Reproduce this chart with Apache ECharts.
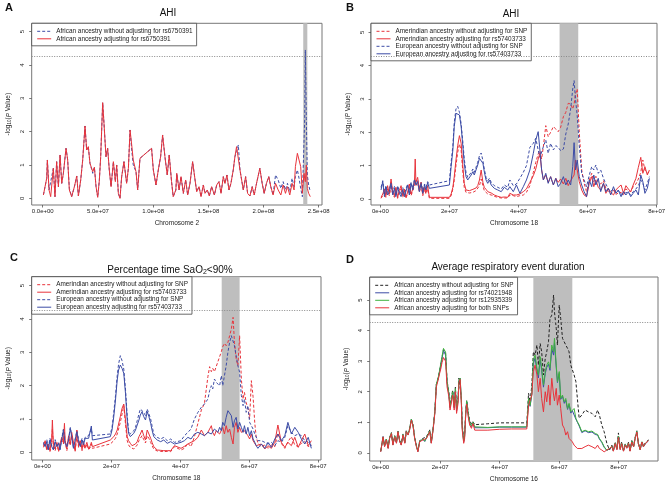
<!DOCTYPE html>
<html>
<head>
<meta charset="utf-8">
<script src="https://cdn.jsdelivr.net/npm/echarts@6/dist/echarts.min.js"></script>
<style>
html, body { margin: 0; padding: 0; background: #fff; }
#chart { width: 667px; height: 490px; }
</style>
</head>
<body>
<div id="chart"></div>
<script>
// positions are in Mb (1e6 bp), values are -log10(P)

// A: AHI, chromosome 2
var posA = [0.6,3.6,4.2,5.7,7.2,9.6,11.1,12.6,14.2,15.7, 17.2,18.7,21.1,22.6,24.1,26.2,28.7,30.8,32.3,34.4,
  36.2,38.3,39.8,41.3,42.8,45.3,46.8,48.3,49.8,51.3, 52.5,54.3,55.5,57.3,58.8,60.3,61.9,64,65.8,67,
  68.5,70,71.5,73.6,76,77.6,79.1,80.6,82,84.5, 86,88.1,89.6,98.6,100.2,102.6,104.7,106.8,108.6,110.7,
  112.8,114.6,116.7,118.2,120.6,
  121.4,123.5,125.3,127.4,129.5,131.3,133.4,135.8,138,139.5, 141.6,143.4,145.5,147,149.1,150.9,153,155.5,157.6,159.7,
  161.5,163.6,165.1,166.9,168.7,170.5,172.6,174.1,175.6,177.2, 178.7,180.2,181.7,183.8,185.6,187.7,189.8,191.6,193.7,196.7,
  198.8,200.6,202.7,204.8,206.6,208.7,210.9,213.3,215.7,217.8, 219.9,221.7,223.8,225.9,227.7,228.9,230.7,232.2,233.7,235.2,
  236.7,237.3,237.9,238.8,239.7,240.9,242.4];
var afrNoAdjA = [0.1,0.6,1.15,0.25,0.3,0.9,0.05,1.1,0.35,1.3, 0.45,0.75,1.5,1.15,0.3,0.05,0.35,0.67,0.07,0.55,
  1.15,2.17,1.45,1.55,1.05,0.75,0.93,0.35,0.03,0.55, 1.25,2.87,2.25,1.25,1.5,0.85,0.35,1.1,0.5,1.0,
  0.15,0.0,0.65,1.1,0.45,0.9,2.05,1.45,1.0,0.8, 0.25,1.2,1.25,1.5,0.85,0.4,0.85,1.25,1.9,1.25,
  0.7,1.3,0.5,0.05,0.25,
  0.75,0.25,0.65,0.15,0.55,0.1,0.45,1.1,0.55,0.2, 0.35,0.05,0.4,0.15,0.25,0.07,0.35,0.1,0.4,0.5,
  0.15,0.65,0.45,0.7,0.25,0.45,0.85,1.25,1.4,1.6, 0.85,0.55,0.25,0.65,0.15,0.07,0.35,0.1,0.45,0.9,
  0.45,0.15,0.45,0.65,0.35,0.1,0.7,0.55,0.3,0.5, 0.25,0.45,0.2,0.6,0.35,0.65,0.85,0.6,0.3,0.05,
  0.1,2.35,4.45,2.4,0.7,0.4,0.2];
var afrAdjA = [0.1,0.6,1.15,0.25,0.05,0.9,0.05,1.1,0.35,1.3, 0.45,0.75,1.5,1.15,0.25,0.05,0.35,0.67,0.07,0.55,
  1.15,2.17,1.45,1.55,1.05,0.8,0.93,0.35,0.03,0.55, 1.25,2.87,2.25,1.25,1.5,0.85,0.35,1.1,0.5,1.0,
  0.15,0.0,0.65,1.1,0.45,0.9,2.05,1.6,1.15,0.8, 0.25,1.2,1.25,1.5,0.85,0.4,0.85,1.25,1.9,1.25,
  0.7,1.3,0.5,0.05,0.25,
  0.75,0.25,0.65,0.15,0.55,0.1,0.45,1.1,0.55,0.2, 0.35,0.05,0.4,0.15,0.25,0.07,0.35,0.1,0.4,0.5,
  0.15,0.65,0.45,0.7,0.25,0.45,0.85,1.25,1.55,1.6, 0.85,0.55,0.25,0.65,0.15,0.07,0.35,0.1,0.45,0.9,
  0.45,0.15,0.45,0.65,0.35,0.1,0.45,0.25,0.1,0.4, 0.15,0.35,0.1,0.45,0.25,0.95,1.35,1.4,0.95,0.15,
  0.75,0.6,0.5,1.0,0.3,0.15,0.05];

// B: AHI, chromosome 18
var posB = [0.2,0.7,1.2,1.6,2.1,2.6,3.1,3.6,4.1,4.5, 5.0,5.5,6.0,6.5,7.0,7.4,7.9,8.4,8.9,9.4,
  9.9,10.1,10.3,10.8,11.3,11.8,12.3,12.8,13.2,13.7, 14.2,
  20,20.5,21,21.4,21.9,22.4,22.9,23.4,23.9, 24.3,24.8,25.3,25.8,26.3,26.8,27.2,27.7,28.2,28.7,
  29.2,29.7,30.1,30.6,31.1,31.6,32.1,33,34,35, 35.9,36.9,
  37.5,38.5,39.4,40.4,41.4,42.3,43.3,44.3,45,45.7, 46.2,46.7,47.2,47.9,48.6,49.3,50.1,50.8,51.5,52.2,
  53,53.7,54.4,55.1,55.7,56.1,56.5,57,57.6,58.3, 59,59.7,60.5,61.2,61.8,62.4,63.1,63.8,64.6,65.3,
  66,66.7,67.5,68.2,68.9,69.7,70.4,71.1,71.8,72.5, 73.2,74,74.7,75.4,76,76.6,77.3,77.9];
var amrNoAdjB = [0.02,0.1,0.2,0.05,0.3,0.1,0.35,0.15,0.05,0.25, 0.02,0.2,0.3,0.05,0.25,0.02,0.15,0.35,0.1,0.25,
  0.4,0.55,0.4,0.5,0.2,0.4,0.1,0.3,0.15,0.3, 0.02,
  0.02,0.1,0.3,0.55,1.0,1.4,1.65,1.45,0.8, 0.35,0.2,0.15,0.18,0.15,0.2,0.18,0.25,0.3,0.4,
  0.6,0.4,0.25,0.2,0.15,0.18,0.12,0.08,0.05,0.03, 0.03,0.03,
  0.12,0.1,0.07,0.1,0.12,0.2,0.4,0.8,1.1,1.35, 1.45,1.2,1.57,2.2,1.87,2.0,2.17,2.1,2.02,2.15,
  2.47,2.6,2.87,2.85,2.7,2.85,3.15,3.3,2.0,0.87, 0.47,0.22,0.57,0.77,0.52,0.68,0.5,0.45,0.55,0.32,
  0.22,0.15,0.27,0.14,0.18,0.2,0.12,0.3,0.25,0.22, 0.37,0.45,0.6,0.8,1.17,0.87,0.77,0.82];
var amrAdjB = [0.05,0.15,0.3,0.1,0.4,0.15,0.6,0.2,0.1,0.35, 0.05,0.25,0.4,0.1,0.3,0.05,0.2,0.45,0.15,0.3,
  0.55,1.2,0.5,0.65,0.3,0.5,0.15,0.35,0.2,0.4, 0.05,
  0.05,0.15,0.35,0.67,1.17,1.6,1.9,1.67,0.97, 0.47,0.27,0.22,0.25,0.22,0.29,0.27,0.33,0.4,0.57,
  0.87,0.5,0.35,0.29,0.22,0.25,0.18,0.12,0.08,0.05, 0.06,0.05,
  0.17,0.12,0.12,0.15,0.22,0.3,0.5,0.7,0.9,1.2, 1.37,0.87,0.57,0.72,0.5,0.67,0.42,0.62,0.5,0.6,
  0.45,0.62,0.4,0.55,0.65,0.72,1.17,0.87,0.52,0.27, 0.12,0.07,0.47,0.67,0.37,0.57,0.35,0.27,0.47,0.17,
  0.32,0.2,0.12,0.27,0.35,0.42,0.17,0.4,0.3,0.22, 0.42,0.62,0.95,1.25,0.77,0.97,0.72,0.87];
var eurNoAdjB = [0.35,0.55,0.15,0.4,0.2,0.3,0.5,0.2,0.38,0.15, 0.4,0.25,0.15,0.35,0.12,0.3,0.45,0.2,0.5,0.32,
  0.6,0.55,0.48,0.55,0.3,0.5,0.25,0.45,0.35,0.52, 0.42,
  0.55,1.1,1.6,2.3,2.7,2.78,2.6,2.25,1.7, 1.2,0.8,0.65,0.7,0.8,0.9,0.8,0.95,1.1,1.3,
  1.38,1.15,0.9,0.65,0.55,0.62,0.5,0.4,0.35,0.3, 0.42,0.35,
  0.57,0.4,0.45,0.62,0.8,1.0,1.55,1.67,1.82,1.47, 1.25,1.3,1.57,1.77,1.37,1.67,1.47,1.6,1.55,1.45,
  1.5,1.95,2.25,2.7,3.3,3.55,3.0,2.5,1.6,0.77, 0.57,0.37,0.72,0.97,0.87,1.02,0.77,0.87,0.62,0.45,
  0.3,0.22,0.32,0.2,0.25,0.15,0.12,0.2,0.18,0.12, 0.22,0.3,0.4,0.57,0.47,0.27,0.47,0.67];
var eurAdjB = [0.27,0.52,0.07,0.37,0.12,0.22,0.47,0.12,0.32,0.07, 0.35,0.17,0.07,0.27,0.07,0.22,0.42,0.12,0.47,0.27,
  0.57,0.5,0.42,0.52,0.22,0.47,0.17,0.42,0.27,0.49, 0.32,
  0.42,0.97,1.47,2.17,2.57,2.62,2.52,2.17,1.57, 1.07,0.67,0.57,0.62,0.72,0.82,0.72,0.87,1.02,1.22,
  1.27,1.07,0.82,0.57,0.47,0.57,0.42,0.32,0.27,0.22, 0.35,0.27,
  0.37,0.22,0.42,0.17,0.37,0.57,0.87,1.37,1.77,2.02, 1.47,0.87,0.57,0.77,0.47,0.67,0.42,0.62,0.37,0.47,
  0.67,0.42,0.57,0.42,0.97,1.69,0.87,1.17,0.67,0.42, 0.22,0.07,0.57,0.37,0.72,0.42,0.62,0.22,0.47,0.22,
  0.32,0.12,0.37,0.17,0.27,0.07,0.22,0.12,0.22,0.07, 0.17,0.27,0.12,0.72,0.52,0.17,0.32,0.62];

// C: percentage time SaO2 < 90%, chromosome 18
var posC = [0.3,0.8,1.3,1.7,2.2,2.7,2.9,3.2,3.7,4.2, 4.7,5.1,5.6,6.1,6.4,6.6,7.1,7.6,8.1,8.5,
  9.0,9.5,10,10.5,11,11.5,11.9,12.4,12.9,13.4, 13.9,14.2,14.5,19.7,20.2,20.7,21.2,21.7,22.1,22.6,
  23.1,23.6,24.1,24.6,25.0,25.5,26,26.5,27,27.5, 28,28.4,28.9,29.4,29.9,30.4,30.9,31.4,31.8,32.3,
  33.3,34.3,35.2,36.2,37.2,
  38.3,40.2,41.2,42.2,43.1,44.1,45.1,46.1,47,47.5, 48,48.5,49,49.4,49.9,50.4,50.9,51.4,51.9,52.3,
  52.8,53.3,53.8,54.3,54.8,55.3,55.7,56.2,56.7,57.2, 57.7,58.2,58.6,59.1,59.6,60.1,60.6,61.1,61.6,62,
  62.5,63.5,64.5,65.4,66.4,67.4,68.3,69.3,70.3,71.2, 72.2,73.2,74.2,75.1,76.1,77.1,78];
var amrNoAdjC = [0.15,0.3,0.05,0.2,0.02,0.3,0.7,0.15,0.05,0.25, 0.02,0.2,0.35,0.25,0.6,0.3,0.05,0.4,0.2,0.5,
  0.25,0.03,0.5,0.15,0.3,0.05,0.25,0.1,0.25,0.08, 0.15,0.25,0.12,0.25,0.3,0.35,0.42,0.55,0.7,0.9,
  1.15,1.4,0.85,0.35,0.22,0.15,0.12,0.1,0.15,0.22, 0.35,0.42,0.5,0.38,0.28,0.5,0.42,0.3,0.2,0.1,
  0.04,0.03,0.02,0.03,0.02,
  0.17,0.07,0.12,0.27,0.17,0.47,0.87,1.27,1.47,1.87, 2.27,2.57,2.42,2.52,2.42,2.57,2.72,2.87,3.02,3.17,
  3.27,3.2,3.3,3.5,3.7,4.05,3.3,2.8,2.6,3.5, 2.2,1.6,1.8,1.5,1.3,1.0,2.15,1.67,0.87,0.47,
  0.27,0.17,0.22,0.12,0.22,0.17,0.57,0.27,0.12,0.32, 0.47,0.22,0.17,0.27,0.32,0.17,0.22];
var amrAdjC = [0.2,0.35,0.1,0.25,0.05,0.4,0.97,0.2,0.1,0.3, 0.05,0.25,0.45,0.3,0.87,0.35,0.1,0.5,0.25,0.6,
  0.3,0.05,0.67,0.2,0.35,0.1,0.3,0.15,0.3,0.1, 0.2,0.3,0.17,0.37,0.42,0.47,0.55,0.67,0.85,1.07,
  1.32,1.45,0.97,0.47,0.35,0.27,0.2,0.17,0.25,0.32, 0.47,0.55,0.67,0.5,0.37,0.67,0.55,0.42,0.3,0.17,
  0.07,0.06,0.05,0.05,0.05,
  0.2,0.12,0.18,0.25,0.3,0.35,0.45,0.67,0.5,0.55, 0.6,0.7,0.8,0.6,0.5,0.65,0.7,0.55,0.6,0.75,
  0.55,0.8,0.6,0.7,0.45,0.25,0.75,0.9,0.6,0.75, 0.6,0.55,0.65,0.6,0.5,0.4,0.55,0.35,0.3,0.2,
  0.15,0.25,0.1,0.2,0.12,0.3,0.82,0.3,0.15,0.3, 0.2,0.45,0.15,0.35,0.55,0.2,0.35];
var eurNoAdjC = [0.3,0.2,0.38,0.1,0.42,0.2,0.25,0.1,0.38,0.22, 0.3,0.1,0.4,0.7,0.45,0.3,0.2,0.42,0.75,0.5,
  0.15,0.4,0.65,0.38,0.2,0.42,0.3,0.45,0.45,0.5, 0.48,0.7,0.5,0.55,0.75,1.2,1.7,2.3,2.65,2.9,
  2.75,2.5,1.9,1.1,0.65,0.55,0.6,0.65,0.75,0.95, 1.15,1.3,1.35,1.2,1.1,1.3,1.25,1.0,0.8,0.55,
  0.45,0.4,0.45,0.35,0.4,
  0.3,0.35,0.5,0.6,0.7,1.0,1.2,1.35,1.45,1.5, 1.6,1.85,2.0,1.9,2.2,2.1,2.05,2.0,2.3,2.0,
  2.3,2.6,3.0,3.3,3.5,3.55,3.2,2.9,2.6,2.4, 1.7,1.4,1.6,1.2,1.4,0.9,0.8,0.7,0.55,0.5,
  0.35,0.35,0.3,0.25,0.3,0.2,0.35,0.3,0.45,0.8, 0.6,0.5,0.55,0.5,0.35,0.3,0.2];
var eurAdjC = [0.27,0.17,0.32,0.07,0.37,0.17,0.2,0.07,0.32,0.17, 0.27,0.07,0.37,0.67,0.4,0.27,0.17,0.37,0.72,0.47,
  0.12,0.37,0.62,0.32,0.17,0.37,0.22,0.42,0.37,0.42, 0.37,0.79,0.37,0.47,0.67,1.07,1.57,2.17,2.47,2.62,
  2.52,2.37,1.77,0.97,0.57,0.47,0.52,0.57,0.67,0.82, 0.97,1.12,1.22,1.07,0.97,1.22,1.07,0.87,0.67,0.47,
  0.37,0.32,0.37,0.27,0.32,
  0.25,0.3,0.35,0.45,0.4,0.55,0.6,0.55,0.5,0.55, 0.6,0.55,0.55,0.6,0.7,0.65,0.6,0.75,0.65,0.9,
  0.8,1.05,1.25,1.2,1.1,0.75,0.95,1.05,0.7,0.9, 0.75,0.6,0.8,0.55,0.75,0.5,0.65,0.4,0.3,0.2,
  0.12,0.25,0.12,0.3,0.15,0.4,0.55,0.35,0.5,0.9, 0.55,0.75,0.6,0.4,0.25,0.45,0.12];

// D: average respiratory event duration, chromosome 16
var posD = [0,0.8,1.3,1.9,2.5,3.0,3.6,4.1,4.7,5.3, 5.8,6.4,6.9,7.5,8.1,8.6,9.2,9.7,10.3,10.9,
  11.4,12,12.5,13.1,13.7,14.2,14.8,15.4,15.9,16.5, 17,17.6,18.2,18.7,19.3,19.8,20.2,20.6,21.1,21.5,
  21.8,22.3,22.9,23.3,23.8,24.2,24.7,25.1,25.5,26, 26.3,26.7,27.1,27.4,27.9,28.2,28.6,28.9,29.4,29.9,
  30.5,31,31.6,32.2,
  36,40,44,49.1,
  49.7,50.2,50.8,51.3,51.9,52.5,53.0,53.6,54.1,54.7, 55.3,55.8,56.4,56.9,57.5,58.1,58.4,59,59.4,60,
  60.5,61.1,61.7,62.2,62.8,63.3,63.9,64.4,65,65.6, 66.1,66.7,67.6,68.7,69.8,71,72.1,72.9,73.5,74.3,
  75.1,76,76.9,77.7,78.2,78.8,79.4,79.9,80.5,81, 81.6,82.2,82.7,83.3,83.8,84.4,85,85.5,86.1,86.6,
  87.2,87.8,88.3,88.9,89.4,90];
var afrNoAdjD = [0.05,0.53,0.22,0.45,0.17,0.5,0.66,0.28,0.56,0.34, 0.72,0.4,0.3,0.62,0.36,0.72,0.63,0.8,1.1,0.9,
  0.52,0.25,0.08,0.4,0.36,0.47,0.42,0.53,0.48,0.75, 0.38,0.8,1.38,2.25,2.45,2.68,2.9,3.12,3.38,3.35,
  3.28,2.35,2.0,1.55,1.85,2.05,1.55,2.15,1.5,1.8, 2.45,2.5,1.8,0.95,0.42,0.6,1.4,1.72,1.35,1.05,
  0.95,1.02,0.92,0.92,
  0.95,0.98,0.98,0.98,
  1.95,1.67,2.22,3.31,3.2,3.53,2.87,3.58,3.31,2.55, 3.09,3.31,3.64,4.4,4.51,5.17,4.62,4.08,3.53,4.84,
  4.4,3.75,3.69,3.53,3.42,3.31,2.87,2.87,2.55,2.33, 1.78,1.13,1.24,1.4,1.34,1.29,1.18,1.4,1.24,0.91,
  0.69,0.31,0.09,0.25,0.08,0.35,0.15,0.65,0.15,0.35, 0.08,0.3,0.18,0.35,0.08,0.4,0.22,0.5,0.72,0.32,
  0.12,0.38,0.22,0.32,0.38,0.42];
var afrAdj1D = [0.04,0.53,0.21,0.44,0.15,0.49,0.64,0.26,0.54,0.32, 0.7,0.37,0.26,0.59,0.32,0.7,0.59,0.76,1.09,0.87,
  0.49,0.21,0.04,0.37,0.32,0.44,0.37,0.49,0.44,0.71, 0.32,0.76,1.33,2.22,2.42,2.66,2.88,3.08,3.35,3.3,
  3.2,2.3,1.92,1.47,1.75,1.97,1.47,2.07,1.37,1.72, 2.36,2.44,1.72,0.82,0.36,0.53,1.33,1.67,1.26,0.97,
  0.86,0.99,0.82,0.8,
  0.82,0.84,0.84,0.84,
  1.7,1.52,1.9,2.93,3.1,2.7,2.45,3.05,2.7,2.15, 2.6,2.8,2.9,2.7,3.4,3.2,3.6,2.8,2.3,2.6,
  1.75,1.85,1.62,1.72,1.42,1.58,1.3,1.38,1.42,1.1, 1.0,0.88,0.66,0.72,0.66,0.68,0.6,0.58,0.45,0.34,
  0.18,0.08,0.13,0.21,0.06,0.31,0.11,0.54,0.11,0.31, 0.06,0.26,0.15,0.31,0.06,0.37,0.19,0.47,0.69,0.29,
  0.1,0.35,0.19,0.29,0.35,0.39];
var afrAdj2D = [0.05,0.52,0.22,0.45,0.16,0.5,0.65,0.27,0.55,0.33, 0.7,0.38,0.27,0.6,0.33,0.7,0.6,0.78,1.1,0.88,
  0.5,0.22,0.05,0.38,0.33,0.45,0.38,0.5,0.45,0.72, 0.33,0.77,1.35,2.25,2.45,2.7,2.93,3.15,3.42,3.38,
  3.3,2.35,1.95,1.5,1.8,2.0,1.5,2.1,1.4,1.75, 2.38,2.45,1.75,0.85,0.38,0.55,1.35,1.7,1.3,1.0,
  0.88,1.0,0.85,0.83,
  0.83,0.85,0.85,0.85,
  1.78,1.55,1.95,3.04,3.2,2.77,2.55,3.15,2.77,2.22, 2.66,2.87,2.98,2.77,3.53,3.31,3.75,2.87,2.33,2.66,
  1.78,1.89,1.67,1.78,1.45,1.62,1.34,1.4,1.45,1.13, 1.02,0.91,0.69,0.74,0.69,0.71,0.63,0.6,0.47,0.36,
  0.2,0.08,0.14,0.22,0.06,0.32,0.12,0.55,0.12,0.32, 0.06,0.27,0.16,0.32,0.07,0.38,0.2,0.48,0.7,0.3,
  0.1,0.36,0.2,0.3,0.36,0.4];
var afrAdjBothD = [0.03,0.52,0.2,0.42,0.14,0.47,0.63,0.25,0.52,0.31, 0.69,0.36,0.25,0.58,0.31,0.69,0.58,0.74,1.07,0.85,
  0.47,0.2,0.03,0.36,0.31,0.42,0.36,0.47,0.42,0.69, 0.31,0.74,1.29,2.16,2.38,2.6,2.75,2.95,3.12,3.15,
  3.0,2.16,1.84,1.4,1.67,1.89,1.4,2.0,1.29,1.62, 2.3,2.4,1.62,0.74,0.31,0.47,1.29,1.6,1.18,0.91,
  0.8,0.96,0.74,0.7,
  0.74,0.77,0.78,0.78,
  1.56,1.5,1.9,2.66,2.87,2.55,2.0,2.44,1.78,1.34, 2.0,1.67,2.22,1.56,2.44,1.89,1.7,2.11,1.56,1.89,
  1.45,0.91,0.8,0.58,0.69,0.47,0.42,0.36,0.25,0.31, 0.14,0.09,0.14,0.2,0.25,0.2,0.14,0.25,0.14,0.09,
  0.03,0.09,0.14,0.2,0.05,0.3,0.1,0.5,0.1,0.3, 0.05,0.25,0.15,0.3,0.05,0.35,0.2,0.45,0.68,0.3,
  0.1,0.35,0.2,0.3,0.35,0.4];

// shaded regions (Mb) and significance threshold
var bandA = [236, 239.7];
var bandB = [51.9, 57.3];
var bandC = [52.0, 57.2];
var bandD = [51.3, 64.4];
var threshold = 4.27;

// ticks
var ticksA = [0, 50, 100, 150, 200, 250];
var tickLabelsA = ['0.0e+00', '5.0e+07', '1.0e+08', '1.5e+08', '2.0e+08', '2.5e+08'];
var ticksChr = [0, 20, 40, 60, 80];
var tickLabelsChr = ['0e+00', '2e+07', '4e+07', '6e+07', '8e+07'];
var ticksY = [0, 1, 2, 3, 4, 5];

var FONT = '"Liberation Sans", Arial, Helvetica, sans-serif';
var RED = '#e8333b', BLUE = '#3c4ca6', GREEN = '#3fb23f', BLACK = '#222222';
var TXT = '#222';

function pairs(pos, vals) {
    return pos.map(function (x, i) { return [x, vals[i]]; });
}

function line(idx, name, pos, vals, color, dashed) {
    return {
        type: 'line', name: name, xAxisIndex: idx, yAxisIndex: idx,
        data: pairs(pos, vals), showSymbol: false, symbol: 'none', silent: true, z: 2,
        lineStyle: { color: color, width: 1, type: dashed ? [3, 2] : 'solid' },
        itemStyle: { color: color }
    };
}

var panels = [
    { grid: { left: 31.7, top: 23.3, width: 290.3, height: 181.7 }, xr: [-10, 253], yr: [-0.2, 5.25],
      ticks: ticksA, labels: tickLabelsA, xname: 'Chromosome 2', band: bandA },
    { grid: { left: 371, top: 23.3, width: 286, height: 181.7 }, xr: [-2.7, 80.1], yr: [-0.18, 5.27],
      ticks: ticksChr, labels: tickLabelsChr, xname: 'Chromosome 18', band: bandB },
    { grid: { left: 31.7, top: 276.7, width: 289.3, height: 183.3 }, xr: [-3.1, 80.8], yr: [-0.23, 5.27],
      ticks: ticksChr, labels: tickLabelsChr, xname: 'Chromosome 18', band: bandC },
    { grid: { left: 369.7, top: 277, width: 288.3, height: 184 }, xr: [-3.7, 93.2], yr: [-0.27, 5.76],
      ticks: ticksChr, labels: tickLabelsChr, xname: 'Chromosome 16', band: bandD }
];

var grids = [], xAxes = [], yAxes = [], series = [];
panels.forEach(function (p, i) {
    grids.push(Object.assign({ show: true, borderColor: '#777', borderWidth: 1, containLabel: false, outerBoundsMode: 'none' }, p.grid));
    xAxes.push({
        type: 'value', gridIndex: i, min: p.xr[0], max: p.xr[1], position: 'bottom',
        name: p.xname, nameLocation: 'middle', nameGap: 15,
        nameTextStyle: { fontSize: 6.5, color: TXT, fontFamily: FONT },
        axisLine: { show: false, onZero: false }, splitLine: { show: false },
        axisTick: { show: true, customValues: p.ticks, length: 2.5, lineStyle: { color: '#555', width: 0.8 } },
        axisLabel: {
            customValues: p.ticks, fontSize: 6, margin: 3.5, color: TXT, fontFamily: FONT,
            formatter: function (v) { var k = p.ticks.indexOf(v); return k >= 0 ? p.labels[k] : ''; }
        }
    });
    yAxes.push({
        type: 'value', gridIndex: i, min: p.yr[0], max: p.yr[1], position: 'left',
        name: '{n|-log}{s|10}{n|(}{i|P}{n| Value)}', nameLocation: 'middle', nameGap: 19, nameRotate: 90,
        nameTextStyle: {
            color: TXT, fontFamily: FONT, fontSize: 6.5,
            rich: {
                n: { fontSize: 6.5, color: TXT, fontFamily: FONT },
                s: { fontSize: 4.5, color: TXT, fontFamily: FONT, verticalAlign: 'bottom', padding: [3, 0, 0, 0] },
                i: { fontSize: 6.5, color: TXT, fontFamily: FONT, fontStyle: 'italic' }
            }
        },
        axisLine: { show: false, onZero: false }, splitLine: { show: false },
        axisTick: { show: true, customValues: ticksY, length: 2.5, lineStyle: { color: '#555', width: 0.8 } },
        axisLabel: { customValues: ticksY, rotate: 90, fontSize: 6, margin: 6, color: TXT, fontFamily: FONT }
    });
    series.push({
        type: 'line', xAxisIndex: i, yAxisIndex: i, data: [], z: 1, silent: true,
        markArea: { silent: true, itemStyle: { color: '#bebebe' }, data: [[{ xAxis: p.band[0] }, { xAxis: p.band[1] }]] }
    });
    series.push({
        type: 'line', xAxisIndex: i, yAxisIndex: i, data: [], z: 3, silent: true,
        markLine: { silent: true, symbol: 'none', label: { show: false },
            lineStyle: { color: '#8a8a8a', type: [1, 1.5], width: 1 }, data: [{ yAxis: threshold }] }
    });
});

var namesA = ['African ancestry without adjusting for rs6750391', 'African ancestry adjusting for rs6750391'];
var namesBC = ['Amerindian ancestry without adjusting for SNP', 'Amerindian ancestry adjusting for rs57403733',
    'European ancestry without adjusting for SNP', 'European ancestry adjusting for rs57403733'];
var namesD = ['African ancestry without adjusting for SNP', 'African ancestry adjusting for rs74021948',
    'African ancestry adjusting for rs12935339', 'African ancestry adjusting for both SNPs'];

series.push(line(0, namesA[0], posA, afrNoAdjA, BLUE, true));
series.push(line(0, namesA[1], posA, afrAdjA, RED, false));

series.push(line(1, namesBC[0], posB, amrNoAdjB, RED, true));
series.push(line(1, namesBC[2], posB, eurNoAdjB, BLUE, true));
series.push(line(1, namesBC[1], posB, amrAdjB, RED, false));
series.push(line(1, namesBC[3], posB, eurAdjB, BLUE, false));

series.push(line(2, namesBC[0], posC, amrNoAdjC, RED, true));
series.push(line(2, namesBC[2], posC, eurNoAdjC, BLUE, true));
series.push(line(2, namesBC[1], posC, amrAdjC, RED, false));
series.push(line(2, namesBC[3], posC, eurAdjC, BLUE, false));

series.push(line(3, namesD[0], posD, afrNoAdjD, BLACK, true));
series.push(line(3, namesD[1], posD, afrAdj1D, BLUE, false));
series.push(line(3, namesD[2], posD, afrAdj2D, GREEN, false));
series.push(line(3, namesD[3], posD, afrAdjBothD, RED, false));

function legend(names, left, top) {
    return {
        data: names, left: left, top: top, orient: 'vertical', selectedMode: false,
        itemWidth: 14, itemHeight: 7, itemGap: 0.5, padding: [4.5, 4, 3.5, 5],
        itemStyle: { opacity: 0, borderWidth: 0 },
        lineStyle: { width: 1 },
        backgroundColor: '#fff', borderColor: '#444', borderWidth: 0.8, borderRadius: 0,
        textStyle: { fontSize: 6.4, lineHeight: 7, color: TXT, fontFamily: FONT }
    };
}

function heading(text, x, y) {
    return { text: text, left: x, top: y, textAlign: 'center', padding: 0,
        textStyle: { fontSize: 10, fontWeight: 'normal', color: '#111', fontFamily: FONT,
            rich: { t: { fontSize: 10, color: '#111', fontFamily: FONT },
                    s: { fontSize: 7, color: '#111', fontFamily: FONT, verticalAlign: 'bottom', padding: [5, 0, 0, 0] } } } };
}
function letter(text, x, y) {
    return { text: text, left: x, top: y, padding: 0,
        textStyle: { fontSize: 11, fontWeight: 'bold', color: '#111', fontFamily: FONT } };
}

var chart = echarts.init(document.getElementById('chart'), null, { renderer: 'canvas' });
chart.setOption({
    animation: false,
    backgroundColor: '#fff',
    title: [
        heading('AHI', 168, 8), heading('AHI', 511, 9),
        heading('{t|Percentage time SaO}{s|2}{t|<90%}', 170, 264),
        heading('Average respiratory event duration', 508, 262),
        letter('A', 5, 2), letter('B', 346, 2), letter('C', 10, 252), letter('D', 346, 254)
    ],
    legend: [
        legend(namesA, 31.7, 23.3),
        legend(namesBC, 371, 23.3),
        legend(namesBC, 31.7, 276.7),
        legend(namesD, 369.7, 277.3)
    ],
    grid: grids,
    xAxis: xAxes,
    yAxis: yAxes,
    series: series
});
</script>
</body>
</html>
